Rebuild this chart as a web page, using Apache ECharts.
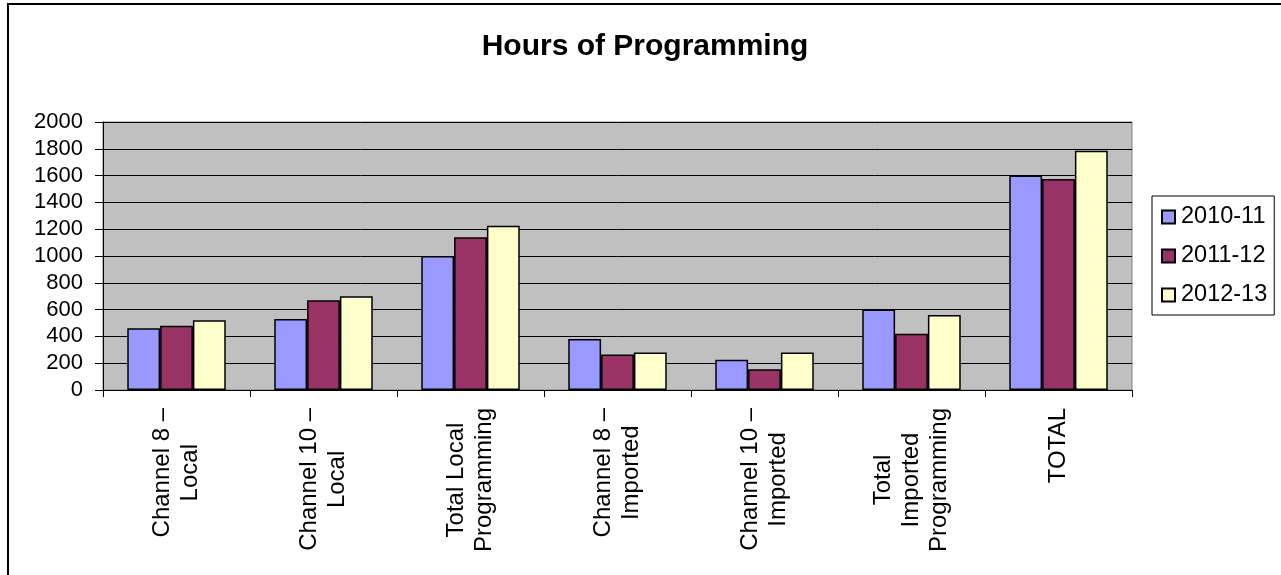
<!DOCTYPE html>
<html>
<head>
<meta charset="utf-8">
<script src="https://cdn.jsdelivr.net/npm/echarts@6/dist/echarts.min.js"></script>
<style>
html,body{margin:0;padding:0;background:#fff;}
#c{width:1281px;height:575px;}
</style>
</head>
<body>
<div id="c"></div>
<script>
const categories = [
  'Channel 8 –\nLocal',
  'Channel 10 –\nLocal',
  'Total Local\nProgramming',
  'Channel 8 –\nImported',
  'Channel 10 –\nImported',
  'Total\nImported\nProgramming',
  'TOTAL'
];
const seriesNames = ['2010-11', '2011-12', '2012-13'];
const values2010 = [460, 530, 1000, 380, 225, 600, 1600];
const values2011 = [480, 670, 1140, 265, 155, 420, 1575];
const values2012 = [520, 700, 1225, 280, 280, 560, 1785];
const yTicks = { min: 0, max: 2000, interval: 200 };

const FONT = 'Liberation Sans, Arial, sans-serif';
const colors = ['#9999FF', '#993366', '#FFFFCC'];
const allValues = [values2010, values2011, values2012];

const chart = echarts.init(document.getElementById('c'), null, { renderer: 'canvas' });
const option = {
  animation: false,
  backgroundColor: '#ffffff',
  title: {
    text: 'Hours of Programming',
    left: 640,
    textAlign: 'center',
    top: 27,
    textStyle: { fontFamily: FONT, fontSize: 30, fontWeight: 'bold', color: '#000' }
  },
  graphic: [{
    type: 'rect',
    silent: true,
    z: -1,
    shape: { x: 8, y: 4, width: 1400, height: 700 },
    style: { fill: 'none', stroke: '#000', lineWidth: 2 }
  }],
  legend: {
    orient: 'vertical',
    left: 1152,
    top: 196,
    padding: [9, 7, 8, 9],
    itemWidth: 13,
    itemHeight: 13,
    itemGap: 15,
    icon: 'rect',
    borderColor: '#000',
    borderWidth: 1,
    backgroundColor: '#fff',
    textStyle: { fontFamily: FONT, fontSize: 23.5, color: '#000', padding: [0, 0, 0, 1] },
    data: seriesNames
  },
  grid: {
    left: 103, right: 149, top: 122, bottom: 185,
    show: true,
    backgroundColor: '#C0C0C0',
    borderColor: '#808080',
    borderWidth: 1
  },
  xAxis: {
    type: 'category',
    data: categories,
    boundaryGap: true,
    axisLine: { show: true, lineStyle: { color: '#000', width: 1 } },
    axisTick: { show: true, length: 7, alignWithLabel: false, interval: 0, lineStyle: { color: '#000' } },
    axisLabel: {
      interval: 0,
      rotate: 90,
      margin: 18,
      color: '#000',
      fontFamily: FONT,
      fontSize: 24,
      lineHeight: 28,
      formatter: function (v) {
        return v.split('\n').map(function (s) { return '{c|' + s + '}'; }).join('\n');
      },
      rich: {
        c: { align: 'center', fontFamily: FONT, fontSize: 24, lineHeight: 28, color: '#000' }
      }
    },
    splitLine: { show: false }
  },
  yAxis: {
    type: 'value',
    min: yTicks.min,
    max: yTicks.max,
    interval: yTicks.interval,
    axisLine: { show: true, lineStyle: { color: '#000', width: 1 } },
    axisTick: { show: true, length: 8, inside: false, lineStyle: { color: '#000' } },
    axisLabel: {
      margin: 20, color: '#000', fontFamily: FONT, fontSize: 22,
      formatter: function (v) { return String(v); }
    },
    splitLine: { show: true, lineStyle: { color: '#000', width: 1 } }
  },
  series: seriesNames.map(function (name, i) {
    return {
      name: name,
      type: 'bar',
      data: allValues[i],
      barGap: '0%',
      barCategoryGap: '33%',
      itemStyle: { color: colors[i], borderColor: '#000', borderWidth: 1.5 }
    };
  })
};
chart.setOption(option);
</script>
</body>
</html>
